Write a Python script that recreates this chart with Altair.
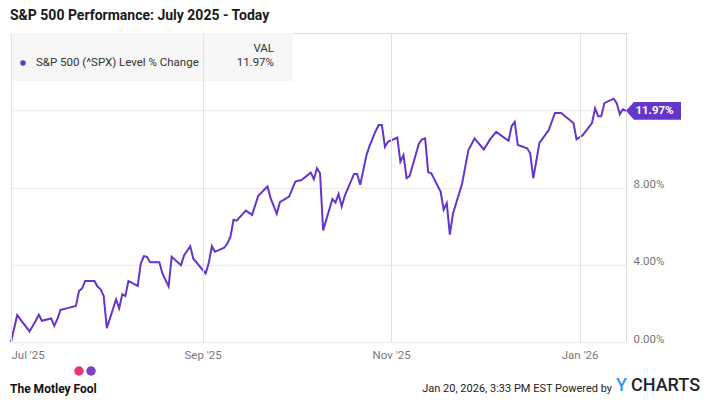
import altair as alt
import pandas as pd

# ---- data ----
dates = [
    "2025-07-01", "2025-07-03", "2025-07-07", "2025-07-09", "2025-07-10", "2025-07-11",
    "2025-07-14", "2025-07-15", "2025-07-16", "2025-07-17", "2025-07-19", "2025-07-22",
    "2025-07-23", "2025-07-24", "2025-07-25", "2025-07-28", "2025-07-29", "2025-07-30",
    "2025-07-31", "2025-08-01", "2025-08-04", "2025-08-05", "2025-08-06", "2025-08-07",
    "2025-08-08", "2025-08-11", "2025-08-12", "2025-08-13", "2025-08-14", "2025-08-15",
    "2025-08-18", "2025-08-19", "2025-08-21", "2025-08-22", "2025-08-25", "2025-08-26",
    "2025-08-28", "2025-08-29", "2025-09-02", "2025-09-03", "2025-09-04", "2025-09-05",
    "2025-09-08", "2025-09-09", "2025-09-10", "2025-09-11", "2025-09-12", "2025-09-15",
    "2025-09-17", "2025-09-19", "2025-09-22", "2025-09-23", "2025-09-25", "2025-09-26",
    "2025-09-29", "2025-10-01", "2025-10-03", "2025-10-06", "2025-10-07", "2025-10-08",
    "2025-10-09", "2025-10-10", "2025-10-13", "2025-10-14", "2025-10-15", "2025-10-16",
    "2025-10-17", "2025-10-20", "2025-10-21", "2025-10-22", "2025-10-24", "2025-10-25",
    "2025-10-27", "2025-10-28", "2025-10-29", "2025-10-30", "2025-10-31", "2025-11-03",
    "2025-11-04", "2025-11-05", "2025-11-06", "2025-11-07", "2025-11-10", "2025-11-11",
    "2025-11-12", "2025-11-13", "2025-11-14", "2025-11-17", "2025-11-18", "2025-11-19",
    "2025-11-20", "2025-11-21", "2025-11-24", "2025-11-26", "2025-11-28", "2025-12-01",
    "2025-12-03", "2025-12-05", "2025-12-09", "2025-12-10", "2025-12-11", "2025-12-12",
    "2025-12-15", "2025-12-16", "2025-12-17", "2025-12-19", "2025-12-22", "2025-12-24",
    "2025-12-26", "2025-12-30", "2025-12-31", "2026-01-02", "2026-01-05", "2026-01-06",
    "2026-01-07", "2026-01-08", "2026-01-09", "2026-01-12", "2026-01-13", "2026-01-14",
    "2026-01-15", "2026-01-16",
]
pct_change = [
    0.00, 1.39, 0.55, 1.10, 1.41, 1.10,
    1.22, 0.84, 1.18, 1.66, 1.74, 1.87,
    2.64, 2.77, 3.16, 3.16, 2.87, 2.73,
    2.38, 0.72, 2.21, 1.74, 2.47, 2.38,
    3.16, 2.90, 4.07, 4.44, 4.41, 4.13,
    4.13, 3.55, 2.88, 4.41, 3.98, 4.48,
    4.96, 4.31, 3.55, 4.10, 4.96, 4.67,
    4.88, 5.10, 5.44, 6.33, 6.28, 6.80,
    6.58, 7.57, 8.05, 7.45, 6.64, 7.24,
    7.53, 8.31, 8.39, 8.77, 8.43, 9.00,
    8.74, 5.78, 7.40, 7.22, 7.67, 7.02,
    7.57, 8.70, 8.70, 8.14, 9.66, 10.14,
    10.93, 11.23, 11.23, 10.11, 10.37, 10.59,
    9.34, 9.68, 8.48, 8.60, 10.28, 10.49,
    10.54, 8.79, 8.74, 7.79, 6.85, 7.19,
    5.56, 6.64, 8.22, 9.94, 10.54, 9.97,
    10.49, 10.88, 10.42, 11.17, 11.40, 10.20,
    10.03, 9.77, 8.48, 10.31, 10.97, 11.86,
    11.86, 11.34, 10.49, 10.71, 11.34, 12.09,
    11.69, 11.69, 12.37, 12.60, 12.37, 11.79,
    12.05, 11.97,
]
y_ticks = [0, 4, 8, 12]
x_ticks = [(2025, 7), (2025, 9), (2025, 11), (2026, 1)]
x_domain = [(2025, 7, 1), (2026, 1, 16)]

series_name = "S&P 500 (^SPX) Level % Change"
title_text = "S&P 500 Performance: July 2025 - Today"
stamp_text = "Jan 20, 2026, 3:33 PM EST Powered by"

PURPLE = "#6436c9"
FONT = "Roboto"

df = pd.DataFrame({"date": dates, "value": pct_change})
last = df.tail(1).copy()
one = pd.DataFrame({"k": [0]})

W, H = 615, 309

x_enc = alt.X(
    "date:T",
    scale=alt.Scale(
        type="utc",
        domain=[alt.DateTime(year=y, month=m, date=d, utc=True) for (y, m, d) in x_domain],
    ),
    axis=alt.Axis(
        values=[alt.DateTime(year=y, month=m, date=1, utc=True) for (y, m) in x_ticks],
        labelExpr="utcFormat(datum.value, \"%b '%y\")",
        title=None, grid=True, gridColor="#e2e2e2", gridWidth=1,
        domain=False, ticks=False, labelPadding=7, labelFlush=5,
        labelColor="#777777", labelFont=FONT, labelFontSize=11.5, zindex=1,
    ),
)
y_enc = alt.Y(
    "value:Q",
    scale=alt.Scale(domain=[0, 16], nice=False, zero=False),
    axis=alt.Axis(
        orient="right", values=y_ticks,
        labelExpr="format(datum.value, '.2f') + '%'",
        title=None, grid=True, gridColor="#ededed", gridWidth=1.5,
        domain=False, ticks=False, labelPadding=7, labelBaseline="alphabetic",
        labelColor="#777777", labelFont=FONT, labelFontSize=11.5,
    ),
)

title = alt.Chart(one).mark_text(
    align="left", baseline="alphabetic", font=FONT, fontSize=14, fontWeight="bold",
    color="#1a1a1a"
).encode(x=alt.value(-1), y=alt.value(-13), text=alt.value(title_text))

legend_box = alt.Chart(one).mark_rect(color="#f6f6f6").encode(
    x=alt.value(0), x2=alt.value(282), y=alt.value(0), y2=alt.value(48)
)

line = alt.Chart(df).mark_line(color=PURPLE, strokeWidth=2).encode(x=x_enc, y=y_enc)

badge_path = "M0,0L0.29,-0.32L2,-0.32L2,0.32L0.29,0.32Z"
badge = alt.Chart(last).mark_point(
    shape=badge_path, size=3025, filled=True, color=PURPLE, opacity=1, strokeWidth=0
).encode(x=x_enc, y=y_enc)

badge_text = alt.Chart(last).transform_calculate(
    lbl="format(datum.value, '.2f') + '%'"
).mark_text(
    dx=28.5, align="center", baseline="middle", color="white",
    font=FONT, fontSize=11.5, fontWeight="bold"
).encode(x=x_enc, y=y_enc, text="lbl:N")

legend_dot = alt.Chart(one).mark_circle(color=PURPLE, size=30, opacity=1).encode(
    x=alt.value(12), y=alt.value(30)
)
legend_name = alt.Chart(one).mark_text(
    align="left", baseline="middle", font=FONT, fontSize=11.5, color="#333333"
).encode(x=alt.value(25), y=alt.value(30), text=alt.value(series_name))
legend_head = alt.Chart(one).mark_text(
    align="right", baseline="middle", font=FONT, fontSize=11.5, color="#333333"
).encode(x=alt.value(263), y=alt.value(16), text=alt.value("VAL"))
legend_val = alt.Chart(last).transform_calculate(
    lbl="format(datum.value, '.2f') + '%'"
).mark_text(
    align="right", baseline="middle", font=FONT, fontSize=11.5, color="#333333"
).encode(x=alt.value(263), y=alt.value(30), text="lbl:N")

fool_text = alt.Chart(one).mark_text(
    align="left", baseline="middle", font=FONT, fontSize=12, fontWeight="bold", color="#111111"
).encode(x=alt.value(-1), y=alt.value(356), text=alt.value("The Motley Fool"))
hat_pink = alt.Chart(one).mark_point(
    shape="circle", size=90, filled=True, color="#e8367c", opacity=1
).encode(x=alt.value(68), y=alt.value(338))
hat_purple = alt.Chart(one).mark_point(
    shape="circle", size=90, filled=True, color="#7a43c6", opacity=1
).encode(x=alt.value(80), y=alt.value(338))

stamp = alt.Chart(one).mark_text(
    align="right", baseline="middle", font=FONT, fontSize=11, color="#222222"
).encode(x=alt.value(601), y=alt.value(356), text=alt.value(stamp_text))
yc_y = alt.Chart(one).mark_text(
    align="left", baseline="middle", font=FONT, fontSize=18, fontWeight=500, color="#2e9bf0"
).encode(x=alt.value(605), y=alt.value(353), text=alt.value("Y"))
yc_rest = alt.Chart(one).mark_text(
    align="left", baseline="middle", font=FONT, fontSize=18, fontWeight=500, color="#1e2633"
).encode(x=alt.value(620), y=alt.value(353), text=alt.value("CHARTS"))

chart = alt.layer(
    legend_box, line, badge, badge_text, legend_dot, legend_name, legend_head, legend_val,
    title, fool_text, hat_pink, hat_purple, stamp, yc_y, yc_rest,
).properties(
    width=W, height=H,
    autosize=alt.AutoSizeParams(type="none"),
    padding={"left": 3, "top": 25, "right": 86, "bottom": 54},
).configure_view(
    stroke="#d0d0d0", strokeWidth=1
).configure(background="white")

chart.save("out.html", embed_options={"renderer": "svg", "actions": False})
